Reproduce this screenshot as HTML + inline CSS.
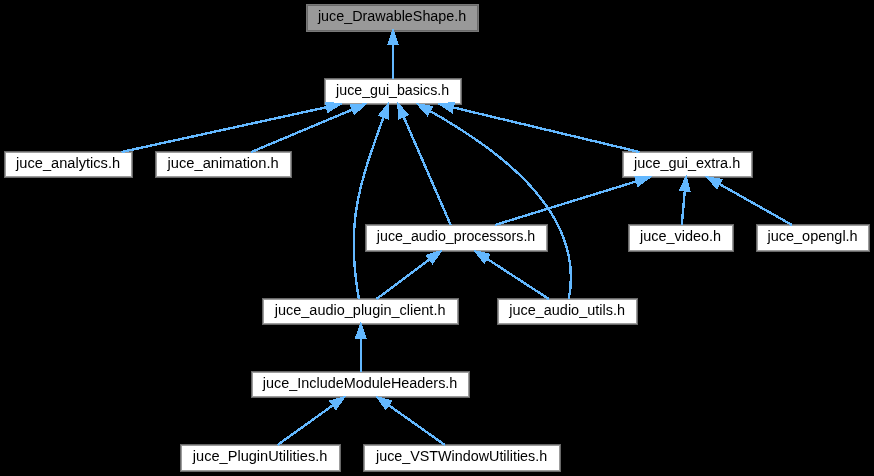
<!DOCTYPE html>
<html><head><meta charset="utf-8"><style>html,body{margin:0;padding:0;background:#000;width:874px;height:476px;overflow:hidden}svg{display:block;will-change:transform}</style></head>
<body>
<svg width="874" height="476" viewBox="0 0 874 476">
<rect x="0" y="0" width="874" height="476" fill="#000"/>
<rect x="306" y="4" width="173" height="28" fill="#787878" shape-rendering="crispEdges"/>
<rect x="307" y="5" width="171" height="26" fill="#6a6a6a" shape-rendering="crispEdges"/>
<rect x="308" y="6" width="169" height="24" fill="#999999" shape-rendering="crispEdges"/>
<text x="392.10" y="21.00" text-anchor="middle" font-family='"Liberation Sans", sans-serif' font-size="14" textLength="148.36" lengthAdjust="spacingAndGlyphs" fill="#000">juce_DrawableShape.h</text>
<rect x="324" y="78" width="138" height="27" fill="#686868" shape-rendering="crispEdges"/>
<rect x="325" y="79" width="136" height="25" fill="#9c9c9c" shape-rendering="crispEdges"/>
<rect x="326" y="80" width="134" height="23" fill="white" shape-rendering="crispEdges"/>
<text x="392.60" y="95.00" text-anchor="middle" font-family='"Liberation Sans", sans-serif' font-size="14" textLength="113.00" lengthAdjust="spacingAndGlyphs" fill="#000">juce_gui_basics.h</text>
<rect x="4" y="151" width="129" height="27" fill="#686868" shape-rendering="crispEdges"/>
<rect x="5" y="152" width="127" height="25" fill="#9c9c9c" shape-rendering="crispEdges"/>
<rect x="6" y="153" width="125" height="23" fill="white" shape-rendering="crispEdges"/>
<text x="68.10" y="168.00" text-anchor="middle" font-family='"Liberation Sans", sans-serif' font-size="14" textLength="103.98" lengthAdjust="spacingAndGlyphs" fill="#000">juce_analytics.h</text>
<rect x="155" y="151" width="137" height="27" fill="#686868" shape-rendering="crispEdges"/>
<rect x="156" y="152" width="135" height="25" fill="#9c9c9c" shape-rendering="crispEdges"/>
<rect x="157" y="153" width="133" height="23" fill="white" shape-rendering="crispEdges"/>
<text x="223.10" y="168.00" text-anchor="middle" font-family='"Liberation Sans", sans-serif' font-size="14" textLength="111.21" lengthAdjust="spacingAndGlyphs" fill="#000">juce_animation.h</text>
<rect x="622" y="151" width="131" height="27" fill="#686868" shape-rendering="crispEdges"/>
<rect x="623" y="152" width="129" height="25" fill="#9c9c9c" shape-rendering="crispEdges"/>
<rect x="624" y="153" width="127" height="23" fill="white" shape-rendering="crispEdges"/>
<text x="687.10" y="168.00" text-anchor="middle" font-family='"Liberation Sans", sans-serif' font-size="14" textLength="106.35" lengthAdjust="spacingAndGlyphs" fill="#000">juce_gui_extra.h</text>
<rect x="365" y="224" width="183" height="28" fill="#686868" shape-rendering="crispEdges"/>
<rect x="366" y="225" width="181" height="26" fill="#9c9c9c" shape-rendering="crispEdges"/>
<rect x="367" y="226" width="179" height="24" fill="white" shape-rendering="crispEdges"/>
<text x="456.10" y="241.00" text-anchor="middle" font-family='"Liberation Sans", sans-serif' font-size="14" textLength="158.42" lengthAdjust="spacingAndGlyphs" fill="#000">juce_audio_processors.h</text>
<rect x="628" y="224" width="106" height="28" fill="#686868" shape-rendering="crispEdges"/>
<rect x="629" y="225" width="104" height="26" fill="#9c9c9c" shape-rendering="crispEdges"/>
<rect x="630" y="226" width="102" height="24" fill="white" shape-rendering="crispEdges"/>
<text x="680.60" y="241.00" text-anchor="middle" font-family='"Liberation Sans", sans-serif' font-size="14" textLength="81.15" lengthAdjust="spacingAndGlyphs" fill="#000">juce_video.h</text>
<rect x="756" y="224" width="114" height="28" fill="#686868" shape-rendering="crispEdges"/>
<rect x="757" y="225" width="112" height="26" fill="#9c9c9c" shape-rendering="crispEdges"/>
<rect x="758" y="226" width="110" height="24" fill="white" shape-rendering="crispEdges"/>
<text x="812.60" y="241.00" text-anchor="middle" font-family='"Liberation Sans", sans-serif' font-size="14" textLength="90.18" lengthAdjust="spacingAndGlyphs" fill="#000">juce_opengl.h</text>
<rect x="262" y="298" width="197" height="27" fill="#686868" shape-rendering="crispEdges"/>
<rect x="263" y="299" width="195" height="25" fill="#9c9c9c" shape-rendering="crispEdges"/>
<rect x="264" y="300" width="193" height="23" fill="white" shape-rendering="crispEdges"/>
<text x="360.10" y="315.00" text-anchor="middle" font-family='"Liberation Sans", sans-serif' font-size="14" textLength="170.80" lengthAdjust="spacingAndGlyphs" fill="#000">juce_audio_plugin_client.h</text>
<rect x="497" y="298" width="141" height="27" fill="#686868" shape-rendering="crispEdges"/>
<rect x="498" y="299" width="139" height="25" fill="#9c9c9c" shape-rendering="crispEdges"/>
<rect x="499" y="300" width="137" height="23" fill="white" shape-rendering="crispEdges"/>
<text x="567.10" y="315.00" text-anchor="middle" font-family='"Liberation Sans", sans-serif' font-size="14" textLength="115.73" lengthAdjust="spacingAndGlyphs" fill="#000">juce_audio_utils.h</text>
<rect x="251" y="371" width="219" height="27" fill="#686868" shape-rendering="crispEdges"/>
<rect x="252" y="372" width="217" height="25" fill="#9c9c9c" shape-rendering="crispEdges"/>
<rect x="253" y="373" width="215" height="23" fill="white" shape-rendering="crispEdges"/>
<text x="360.10" y="388.00" text-anchor="middle" font-family='"Liberation Sans", sans-serif' font-size="14" textLength="194.58" lengthAdjust="spacingAndGlyphs" fill="#000">juce_IncludeModuleHeaders.h</text>
<rect x="180" y="444" width="161" height="28" fill="#686868" shape-rendering="crispEdges"/>
<rect x="181" y="445" width="159" height="26" fill="#9c9c9c" shape-rendering="crispEdges"/>
<rect x="182" y="446" width="157" height="24" fill="white" shape-rendering="crispEdges"/>
<text x="260.10" y="461.00" text-anchor="middle" font-family='"Liberation Sans", sans-serif' font-size="14" textLength="134.58" lengthAdjust="spacingAndGlyphs" fill="#000">juce_PluginUtilities.h</text>
<rect x="363" y="444" width="198" height="28" fill="#686868" shape-rendering="crispEdges"/>
<rect x="364" y="445" width="196" height="26" fill="#9c9c9c" shape-rendering="crispEdges"/>
<rect x="365" y="446" width="194" height="24" fill="white" shape-rendering="crispEdges"/>
<text x="461.60" y="461.00" text-anchor="middle" font-family='"Liberation Sans", sans-serif' font-size="14" textLength="171.14" lengthAdjust="spacingAndGlyphs" fill="#000">juce_VSTWindowUtilities.h</text>
<path d="M393.00,79.00 L393.00,44.33" fill="none" stroke="#63b8ff" stroke-width="2.4" shape-rendering="crispEdges"/>
<polygon points="393.00,31.00 397.67,44.33 388.33,44.33" fill="#63b8ff" stroke="#63b8ff" stroke-width="2.000" shape-rendering="crispEdges"/>
<path d="M121.50,152.00 L326.97,107.14" fill="none" stroke="#63b8ff" stroke-width="2.4" shape-rendering="crispEdges"/>
<polygon points="340.00,104.30 327.97,111.70 325.98,102.58" fill="#63b8ff" stroke="#63b8ff" stroke-width="2.000" shape-rendering="crispEdges"/>
<path d="M251.30,152.00 L352.71,109.46" fill="none" stroke="#63b8ff" stroke-width="2.4" shape-rendering="crispEdges"/>
<polygon points="365.00,104.30 354.51,113.76 350.90,105.15" fill="#63b8ff" stroke="#63b8ff" stroke-width="2.000" shape-rendering="crispEdges"/>
<path d="M639.50,152.00 L452.97,107.40" fill="none" stroke="#63b8ff" stroke-width="2.4" shape-rendering="crispEdges"/>
<polygon points="440.00,104.30 454.05,102.86 451.88,111.94" fill="#63b8ff" stroke="#63b8ff" stroke-width="2.000" shape-rendering="crispEdges"/>
<path d="M450.70,225.00 L403.52,116.53" fill="none" stroke="#63b8ff" stroke-width="2.4" shape-rendering="crispEdges"/>
<polygon points="398.20,104.30 407.80,114.66 399.24,118.39" fill="#63b8ff" stroke="#63b8ff" stroke-width="2.000" shape-rendering="crispEdges"/>
<path d="M358.90,299.00 C344.97,221.19 360.35,182.28 383.54,116.87" fill="none" stroke="#63b8ff" stroke-width="2.4" shape-rendering="crispEdges"/>
<polygon points="388.00,104.30 387.94,118.43 379.15,115.31" fill="#63b8ff" stroke="#63b8ff" stroke-width="2.000" shape-rendering="crispEdges"/>
<path d="M568.80,299.00 C586.60,207.53 487.26,143.31 429.62,110.84" fill="none" stroke="#63b8ff" stroke-width="2.4" shape-rendering="crispEdges"/>
<polygon points="418.00,104.30 431.91,106.78 427.33,114.91" fill="#63b8ff" stroke="#63b8ff" stroke-width="2.000" shape-rendering="crispEdges"/>
<path d="M495.00,225.00 L636.76,181.23" fill="none" stroke="#63b8ff" stroke-width="2.4" shape-rendering="crispEdges"/>
<polygon points="649.50,177.30 638.14,185.69 635.38,176.77" fill="#63b8ff" stroke="#63b8ff" stroke-width="2.000" shape-rendering="crispEdges"/>
<path d="M681.80,225.00 L684.83,190.58" fill="none" stroke="#63b8ff" stroke-width="2.4" shape-rendering="crispEdges"/>
<polygon points="686.00,177.30 689.48,190.99 680.18,190.17" fill="#63b8ff" stroke="#63b8ff" stroke-width="2.000" shape-rendering="crispEdges"/>
<path d="M792.00,225.00 L719.11,183.85" fill="none" stroke="#63b8ff" stroke-width="2.4" shape-rendering="crispEdges"/>
<polygon points="707.50,177.30 721.41,179.79 716.82,187.92" fill="#63b8ff" stroke="#63b8ff" stroke-width="2.000" shape-rendering="crispEdges"/>
<path d="M376.50,299.00 L429.81,259.27" fill="none" stroke="#63b8ff" stroke-width="2.4" shape-rendering="crispEdges"/>
<polygon points="440.50,251.30 432.60,263.01 427.02,255.53" fill="#63b8ff" stroke="#63b8ff" stroke-width="2.000" shape-rendering="crispEdges"/>
<path d="M548.90,299.00 L486.68,258.57" fill="none" stroke="#63b8ff" stroke-width="2.4" shape-rendering="crispEdges"/>
<polygon points="475.50,251.30 489.22,254.65 484.14,262.48" fill="#63b8ff" stroke="#63b8ff" stroke-width="2.000" shape-rendering="crispEdges"/>
<path d="M360.80,372.00 L360.80,337.63" fill="none" stroke="#63b8ff" stroke-width="2.4" shape-rendering="crispEdges"/>
<polygon points="360.80,324.30 365.47,337.63 356.13,337.63" fill="#63b8ff" stroke="#63b8ff" stroke-width="2.000" shape-rendering="crispEdges"/>
<path d="M277.50,445.00 L333.17,405.07" fill="none" stroke="#63b8ff" stroke-width="2.4" shape-rendering="crispEdges"/>
<polygon points="344.00,397.30 335.89,408.86 330.45,401.28" fill="#63b8ff" stroke="#63b8ff" stroke-width="2.000" shape-rendering="crispEdges"/>
<path d="M444.90,445.00 L388.38,405.00" fill="none" stroke="#63b8ff" stroke-width="2.4" shape-rendering="crispEdges"/>
<polygon points="377.50,397.30 391.08,401.19 385.69,408.81" fill="#63b8ff" stroke="#63b8ff" stroke-width="2.000" shape-rendering="crispEdges"/>
</svg>
</body></html>
